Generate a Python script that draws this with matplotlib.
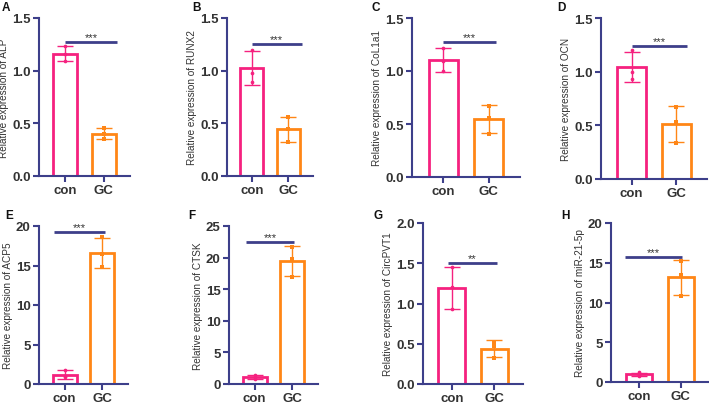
import matplotlib.pyplot as plt
import numpy as np

plt.rcParams['font.family'] = ['Liberation Sans', 'DejaVu Sans']

groups = ['con', 'GC']
genes = ['ALP', 'RUNX2', 'CoL1a1', 'OCN', 'ACP5', 'CTSK', 'CircPVT1', 'miR-21-5p']
letters = ['A', 'B', 'C', 'D', 'E', 'F', 'G', 'H']

# three replicates per group
con_pts = [
    [1.23, 1.16, 1.09],
    [1.20, 0.98, 0.89],
    [1.22, 1.09, 1.00],
    [1.20, 1.00, 0.93],
    [1.80, 0.95, 0.85],
    [1.45, 1.10, 0.85],
    [1.45, 1.20, 0.93],
    [1.20, 0.90, 0.80],
]
gc_pts = [
    [0.46, 0.40, 0.35],
    [0.56, 0.45, 0.32],
    [0.67, 0.56, 0.41],
    [0.67, 0.53, 0.34],
    [18.6, 16.5, 14.8],
    [21.6, 19.8, 17.0],
    [0.52, 0.47, 0.32],
    [15.2, 13.5, 10.8],
]
stars = ['***', '***', '***', '***', '***', '***', '**', '***']
sig_y = [1.27, 1.25, 1.27, 1.24, 19.2, 22.5, 1.5, 15.7]
ymax = [1.5, 1.5, 1.5, 1.5, 20, 25, 2.0, 20]
ystep = [0.5, 0.5, 0.5, 0.5, 5, 5, 0.5, 5]
yfmt = ['%.1f', '%.1f', '%.1f', '%.1f', '%d', '%d', '%.1f', '%d']

# layout in pixels: axis left, top, right, bottom; letter x, y; sig line x range
W, H = 709, 406
boxes = [(39, 19, 130, 177), (227, 19, 313, 177), (412, 19, 520, 178), (601, 19, 707, 180),
         (39, 227, 128, 385), (229, 227, 318, 385), (423, 224, 523, 385), (611, 224, 709, 383)]
letter_xy = [(2, 2), (192, 2), (372, 2), (557, 2), (5, 210), (188, 210), (374, 210), (561, 210)]
sig_x = [(0, 1.33), (0, 1.37), (0, 1.15), (0, 1.24), (-0.28, 1.07), (-0.22, 1.05), (-0.1, 1.07), (-0.35, 1.02)]

pink = '#F5217F'
orange = '#FF8616'
navy = '#3D3F8A'
txt = '#333333'

fig = plt.figure(figsize=(W / 100, H / 100), dpi=100)

for i in range(8):
    l, t, r, b = boxes[i]
    ax = fig.add_axes([l / W, 1 - b / H, (r - l) / W, (b - t) / H])
    pts = [np.array(con_pts[i]), np.array(gc_pts[i])]
    cols = [pink, orange]
    markers = ['o', 's']
    for j in range(2):
        m = pts[j].mean()
        sd = pts[j].std(ddof=1)
        ax.bar(j, m, width=0.63, color='white', edgecolor=cols[j], linewidth=2.0, zorder=2)
        ax.errorbar(j, m, yerr=sd, color=cols[j], capsize=6, elinewidth=1.0, capthick=1.0, zorder=3)
        ax.scatter([j] * 3, pts[j], s=7, marker=markers[j], color=cols[j], zorder=4, linewidths=0)
    x0, x1 = sig_x[i]
    ax.plot([x0, x1], [sig_y[i], sig_y[i]], color=navy, lw=2.0, solid_capstyle='butt', clip_on=False)
    ax.text((x0 + x1) / 2, sig_y[i], stars[i], ha='center', va='bottom', fontsize=8, color=txt)

    ax.set_xlim(-0.68, 1.68)
    ax.set_ylim(0, ymax[i])
    ax.set_yticks(np.arange(0, ymax[i] + ystep[i] / 2, ystep[i]))
    ax.set_yticklabels([yfmt[i] % v for v in ax.get_yticks()])
    ax.set_xticks([0, 1])
    ax.set_xticklabels(groups)
    for s in ['top', 'right']:
        ax.spines[s].set_visible(False)
    for s in ['left', 'bottom']:
        ax.spines[s].set_color(navy)
        ax.spines[s].set_linewidth(1.5)
    ax.tick_params(colors=navy, width=1.5, length=4, labelcolor=txt, labelsize=9.5, pad=2)
    for lab in ax.get_xticklabels() + ax.get_yticklabels():
        lab.set_fontweight('bold')
    ax.set_ylabel('Relative expression of ' + genes[i], fontsize=7.2, color=txt, labelpad=2)
    fig.text(letter_xy[i][0] / W, 1 - letter_xy[i][1] / H, letters[i], fontsize=8.5,
             fontweight='bold', va='top', ha='left', color='#111111')

fig.savefig('out.png', dpi=100)
